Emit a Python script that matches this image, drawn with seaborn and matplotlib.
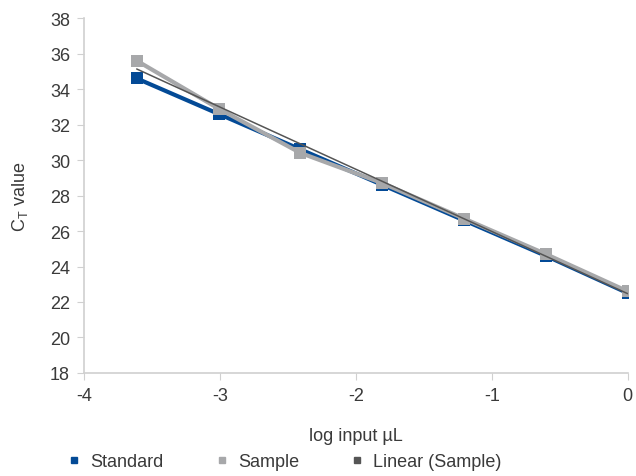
import numpy as np
import pandas as pd
import seaborn as sns
import matplotlib.pyplot as plt
from matplotlib.lines import Line2D

# Дані
log_input = [-3.612, -3.010, -2.408, -1.806, -1.204, -0.602, 0.0]
ct_standard = [34.6, 32.6, 30.6, 28.6, 26.6, 24.6, 22.5]
ct_sample = [35.6, 32.9, 30.4, 28.7, 26.7, 24.7, 22.6]
series_names = ["Standard", "Sample", "Linear (Sample)"]

df = pd.DataFrame({"x": log_input, "Standard": ct_standard, "Sample": ct_sample})

sns.set_style("white")
plt.rcParams['font.family'] = ['Liberation Sans', 'DejaVu Sans']
plt.rcParams['axes.unicode_minus'] = False

blue = "#034a96"
grey = "#a7a8aa"
dark = "#555555"
txt = "#3a3a3a"

fig, ax = plt.subplots(figsize=(6.36, 4.77), dpi=100)
fig.subplots_adjust(left=0.132, right=0.987, top=0.96, bottom=0.216)

sns.lineplot(data=df, x="x", y="Standard", ax=ax, color=blue, lw=3,
             marker="s", markersize=8.5, markeredgewidth=0)
sns.lineplot(data=df, x="x", y="Sample", ax=ax, color=grey, lw=3,
             marker="s", markersize=8.5, markeredgewidth=0)
sns.regplot(data=df, x="x", y="Sample", ax=ax, scatter=False, ci=None,
            color=dark, line_kws={"lw": 1.1})

ax.set_xlim(-4, 0)
ax.set_ylim(18, 38)
ax.set_xticks([-4, -3, -2, -1, 0])
ax.set_yticks(range(18, 39, 2))
for s in ["top", "right"]:
    ax.spines[s].set_visible(False)
for s in ["left", "bottom"]:
    ax.spines[s].set_color("#d0d0d0")
    ax.spines[s].set_linewidth(1.2)
ax.tick_params(axis="both", length=5, color="#d0d0d0", labelsize=13,
               labelcolor=txt, pad=5, bottom=True, left=True)

ax.set_xlabel("log input µL", fontsize=13, color=txt, labelpad=17)
ax.set_ylabel("C$_\\mathregular{T}$ value", fontsize=13, color=txt, labelpad=14)

handles = [Line2D([], [], ls="none", marker="s", markersize=5, color=c)
           for c in [blue, grey, dark]]
fig.legend(handles, series_names, loc="lower left", bbox_to_anchor=(0.063, -0.022),
           ncol=3, frameon=False, fontsize=13, handletextpad=-0.1,
           columnspacing=2.2, labelcolor=txt)

fig.savefig("out.png", dpi=100)
